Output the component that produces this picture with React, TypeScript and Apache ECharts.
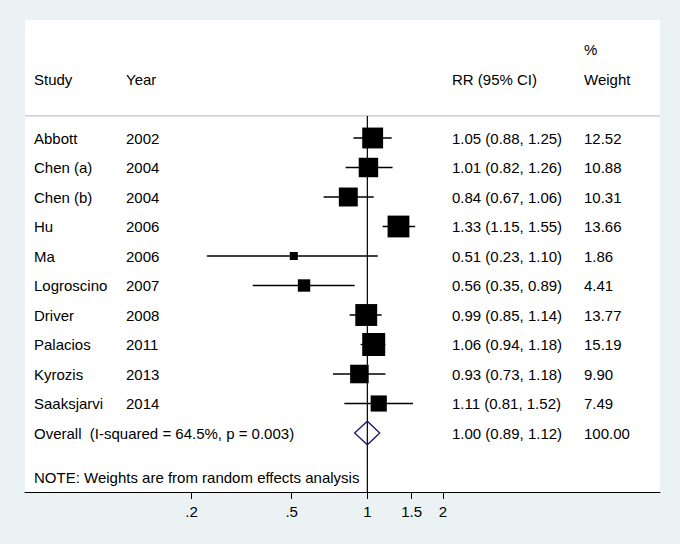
import React, { useEffect, useRef } from "react";
import * as echarts from "echarts";

const studies = ["Abbott", "Chen (a)", "Chen (b)", "Hu", "Ma", "Logroscino", "Driver", "Palacios", "Kyrozis", "Saaksjarvi"];
const years = ["2002", "2004", "2004", "2006", "2006", "2007", "2008", "2011", "2013", "2014"];
const rr = [1.05, 1.01, 0.84, 1.33, 0.51, 0.56, 0.99, 1.06, 0.93, 1.11];
const lower = [0.88, 0.82, 0.67, 1.15, 0.23, 0.35, 0.85, 0.94, 0.73, 0.81];
const upper = [1.25, 1.26, 1.06, 1.55, 1.1, 0.89, 1.14, 1.18, 1.18, 1.52];
const weights = [12.52, 10.88, 10.31, 13.66, 1.86, 4.41, 13.77, 15.19, 9.9, 7.49];

const overallLabel = "Overall  (I-squared = 64.5%, p = 0.003)";
const overallEst = 1.0;
const overallLower = 0.89;
const overallUpper = 1.12;
const overallWeight = 100.0;

const headerRow1 = ["", "", "", "%"];
const headerRow2 = ["Study", "Year", "RR (95% CI)", "Weight"];
const noteText = "NOTE: Weights are from random effects analysis";

const tickValues = [0.2, 0.5, 1, 1.5, 2];
const tickLabels = [".2", ".5", "1", "1.5", "2"];

const FONT = "'Liberation Sans', Arial, sans-serif";
const FS = 15;
const COL_X = [34, 126, 452, 584];
const X_MIN = -3.135;
const X_MAX = 2.68;
const OVERALL_ROW = 10;
const NOTE_ROW = 11.5;
const SEP_ROW = -0.75;

const fmt = (v: number) => v.toFixed(2);

export default function App() {
  const ref = useRef<HTMLDivElement>(null);
  useEffect(() => {
    if (!ref.current) return;
    const chart = echarts.init(ref.current, null, { renderer: "svg" });

    const rowTexts: string[][] = [];
    const rowIdx: number[] = [];
    rowTexts.push(headerRow1); rowIdx.push(-3);
    rowTexts.push(headerRow2); rowIdx.push(-2);
    studies.forEach((s, i) => {
      rowTexts.push([s, years[i], `${fmt(rr[i])} (${fmt(lower[i])}, ${fmt(upper[i])})`, fmt(weights[i])]);
      rowIdx.push(i);
    });
    rowTexts.push([overallLabel, "", `${fmt(overallEst)} (${fmt(overallLower)}, ${fmt(overallUpper)})`, fmt(overallWeight)]);
    rowIdx.push(OVERALL_ROW);
    rowTexts.push([noteText, "", "", ""]);
    rowIdx.push(NOTE_ROW);

    const textStyle = (t: string, x: number, y: number) => ({
      type: "text",
      style: { text: t, x, y, fill: "#000", fontSize: FS, fontFamily: FONT, verticalAlign: "middle", align: "left" },
    });

    const option: any = {
      animation: false,
      backgroundColor: "#eaf2f3",
      grid: { left: 25, right: 20, top: 20, bottom: 52, show: true, backgroundColor: "#ffffff", borderWidth: 0 },
      xAxis: {
        type: "value",
        min: X_MIN,
        max: X_MAX,
        splitLine: { show: false },
        axisLine: { show: true, onZero: false, lineStyle: { color: "#000", width: 1 } },
        axisTick: { show: true, length: 7, customValues: tickValues.map(Math.log), lineStyle: { color: "#000", width: 1 } },
        axisLabel: {
          customValues: tickValues.map(Math.log),
          color: "#000",
          fontSize: FS,
          fontFamily: FONT,
          margin: 12,
          formatter: (v: number) => {
            let best = 0;
            tickValues.forEach((t, i) => {
              if (Math.abs(Math.log(t) - v) < Math.abs(Math.log(tickValues[best]) - v)) best = i;
            });
            return tickLabels[best];
          },
        },
      },
      yAxis: { type: "value", inverse: true, min: -4, max: 12, show: false },
      series: [
        {
          type: "custom",
          clip: false,
          z: 1,
          data: [[0, SEP_ROW]],
          renderItem: (params: any, api: any) => {
            const a = api.coord([X_MIN, SEP_ROW]);
            const b = api.coord([X_MAX, SEP_ROW]);
            const top = api.coord([0, SEP_ROW]);
            const bot = api.coord([0, 12]);
            return {
              type: "group",
              children: [
                { type: "line", shape: { x1: a[0], y1: a[1], x2: b[0], y2: b[1] }, style: { stroke: "#c4c4c4", lineWidth: 1.2 } },
                { type: "line", shape: { x1: top[0], y1: top[1], x2: bot[0], y2: bot[1] }, style: { stroke: "#000", lineWidth: 1.2 } },
              ],
            };
          },
        },
        {
          type: "custom",
          clip: false,
          z: 2,
          data: rr.map((v, i) => [Math.log(v), i, Math.log(lower[i]), Math.log(upper[i]), weights[i]]),
          renderItem: (params: any, api: any) => {
            const row = api.value(1);
            const c = api.coord([api.value(0), row]);
            const l = api.coord([api.value(2), row]);
            const h = api.coord([api.value(3), row]);
            const s = 5.9 * Math.sqrt(api.value(4));
            return {
              type: "group",
              children: [
                { type: "line", shape: { x1: l[0], y1: l[1], x2: h[0], y2: h[1] }, style: { stroke: "#000", lineWidth: 1.3 } },
                { type: "rect", shape: { x: c[0] - s / 2, y: c[1] - s / 2, width: s, height: s }, style: { fill: "#000" } },
              ],
            };
          },
        },
        {
          type: "custom",
          clip: false,
          z: 3,
          data: [[Math.log(overallEst), OVERALL_ROW, Math.log(overallLower), Math.log(overallUpper)]],
          renderItem: (params: any, api: any) => {
            const row = api.value(1);
            const l = api.coord([api.value(2), row]);
            const h = api.coord([api.value(3), row]);
            const t = api.coord([api.value(0), row - 0.4]);
            const b = api.coord([api.value(0), row + 0.4]);
            return {
              type: "polygon",
              shape: { points: [[l[0], l[1]], [t[0], t[1]], [h[0], h[1]], [b[0], b[1]]] },
              style: { fill: "none", stroke: "#1a1a66", lineWidth: 1.3 },
            };
          },
        },
        {
          type: "custom",
          clip: false,
          z: 4,
          data: rowIdx.map((r) => [0, r]),
          renderItem: (params: any, api: any) => {
            const y = api.coord([0, api.value(1)])[1];
            const texts = rowTexts[params.dataIndex];
            const children: any[] = [];
            texts.forEach((t, ci) => {
              if (t !== "") children.push(textStyle(t, COL_X[ci], y));
            });
            return { type: "group", children };
          },
        },
      ],
    };
    chart.setOption(option);
    return () => chart.dispose();
  }, []);
  return <div ref={ref} style={{ position: "absolute", left: 0, top: 0, width: 680, height: 544 }} />;
}
